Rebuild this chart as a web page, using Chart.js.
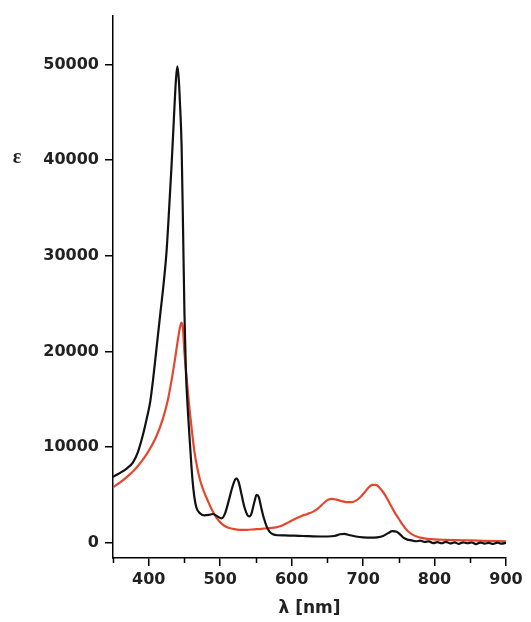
<html lang="en">
<head>
    <meta charset="UTF-8">
    <title>Absorption spectra</title>
    <script src="https://cdn.jsdelivr.net/npm/chart.js"></script>
    <style>
        body { margin: 0; background: #fff; }
        canvas { display: block; }
    </style>
</head>
<body>
    <canvas id="spectrum" width="531" height="622"></canvas>

    <script>
        // black spectrum (wavelength nm / epsilon)
        const blackNm = [350, 360, 370, 378, 385, 392, 397, 402, 406, 411, 416, 421, 425, 429, 432, 435, 438, 440, 442, 444, 446, 448, 450, 452, 455, 458, 461, 464, 467, 472, 478, 484, 490, 496, 502, 507, 512, 517, 521, 523, 526, 530, 534, 538, 541, 544, 548, 551, 554, 557, 561, 565, 569, 574, 580, 590, 600, 610, 620, 630, 640, 650, 660, 668, 674, 680, 690, 700, 710, 720, 728, 735, 741, 747, 752, 757, 762, 768, 774, 780, 786, 792, 798, 804, 810, 816, 822, 828, 834, 840, 846, 852, 858, 864, 870, 876, 882, 888, 894, 900];
        const blackEps = [6900, 7300, 7800, 8400, 9500, 11300, 12900, 14700, 17000, 20400, 23800, 27200, 30500, 35500, 39500, 44000, 48300, 49800, 48500, 45500, 41500, 33000, 24000, 18000, 13500, 10000, 6800, 4700, 3600, 3050, 2850, 2900, 3000, 2750, 2550, 3100, 4400, 5800, 6600, 6700, 6300, 5000, 3700, 2900, 2750, 3100, 4300, 5000, 4800, 3800, 2600, 1700, 1150, 880, 780, 760, 740, 720, 690, 660, 650, 650, 700, 880, 920, 800, 650, 560, 520, 560, 700, 1000, 1200, 1150, 850, 500, 320, 250, 150, 210, 80, 140, -40, 60, -60, 90, -80, 30, -120, 40, -60, 20, -140, 10, -90, -20, -130, 0, -100, -10];

        // red spectrum
        const redNm = [350, 360, 370, 380, 390, 400, 410, 420, 427, 432, 437, 441, 444, 446, 448, 450, 453, 456, 460, 464, 468, 472, 477, 482, 488, 495, 502, 509, 518, 528, 537, 548, 558, 569, 578, 587, 596, 605, 614, 622, 630, 638, 645, 651, 657, 663, 670, 677, 684, 690, 696, 702, 708, 713, 718, 723, 728, 733, 738, 744, 750, 756, 762, 768, 775, 782, 790, 800, 815, 830, 850, 870, 900];
        const redEps = [5800, 6300, 6900, 7600, 8500, 9600, 11000, 13000, 15000, 17000, 19300, 21300, 22600, 23000, 22300, 19800, 17300, 14800, 12000, 9500, 7800, 6500, 5400, 4500, 3500, 2600, 2000, 1650, 1450, 1350, 1350, 1400, 1450, 1530, 1600, 1800, 2150, 2500, 2800, 3000, 3250, 3650, 4150, 4500, 4580, 4500, 4350, 4250, 4250, 4400, 4750, 5250, 5800, 6050, 6050, 5750, 5300, 4700, 4000, 3200, 2500, 1800, 1250, 900, 650, 500, 400, 340, 300, 270, 240, 200, 150];

        const xMajorTicks = [400, 500, 600, 700, 800, 900];
        const xMinorTicks = [350, 450, 550, 650, 750, 850];
        const yTicks = [0, 10000, 20000, 30000, 40000, 50000];

        const inkColor = '#222';
        const labelFont = { family: '"DejaVu Sans"', size: 16, weight: 'bold' };

        function toPoints(xs, ys) {
            return xs.map((x, i) => ({ x: x, y: ys[i] }));
        }

        // short minor ticks under the x axis, plus the epsilon label next to 40000
        const extras = {
            id: 'extras',
            afterDraw(chart) {
                const ctx = chart.ctx;
                const xs = chart.scales.x;
                const ys = chart.scales.y;
                ctx.save();
                ctx.strokeStyle = '#000';
                ctx.lineWidth = 1.5;
                ctx.beginPath();
                xMinorTicks.forEach(v => {
                    const px = Math.round(xs.getPixelForValue(v)) + 0.5;
                    ctx.moveTo(px, ys.bottom);
                    ctx.lineTo(px, ys.bottom + 5);
                });
                ctx.stroke();

                ctx.fillStyle = inkColor;
                ctx.font = 'bold 20px "Liberation Serif"';
                ctx.textAlign = 'center';
                ctx.textBaseline = 'middle';
                ctx.fillText('ε', 17, ys.getPixelForValue(40000) - 2);
                ctx.restore();
            }
        };

        new Chart(document.getElementById('spectrum'), {
            type: 'line',
            data: {
                datasets: [
                    {
                        label: 'black',
                        data: toPoints(blackNm, blackEps),
                        borderColor: '#111',
                        borderWidth: 2.2,
                        pointRadius: 0,
                        cubicInterpolationMode: 'monotone'
                    },
                    {
                        label: 'red',
                        data: toPoints(redNm, redEps),
                        borderColor: '#e4472d',
                        borderWidth: 2.2,
                        pointRadius: 0,
                        cubicInterpolationMode: 'monotone'
                    }
                ]
            },
            options: {
                responsive: false,
                animation: false,
                devicePixelRatio: 1,
                layout: { padding: { top: 14, right: 25, left: 0, bottom: 0 } },
                plugins: {
                    legend: { display: false },
                    tooltip: { enabled: false }
                },
                scales: {
                    x: {
                        type: 'linear',
                        min: 350,
                        max: 900,
                        afterBuildTicks: s => { s.ticks = xMajorTicks.map(v => ({ value: v })); },
                        afterFit: s => { s.height = 64; },
                        border: { display: true, color: '#000', width: 1.5 },
                        grid: { drawOnChartArea: false, drawTicks: true, tickLength: 8, color: '#000', lineWidth: 1.5 },
                        ticks: {
                            padding: 4,
                            maxRotation: 0,
                            autoSkip: false,
                            color: inkColor,
                            font: labelFont
                        },
                        title: {
                            display: true,
                            text: 'λ [nm]',
                            color: inkColor,
                            font: { family: '"DejaVu Sans"', size: 17, weight: 'bold' },
                            padding: { top: 0, bottom: 3 }
                        }
                    },
                    y: {
                        type: 'linear',
                        min: -1600,
                        max: 55100,
                        afterBuildTicks: s => { s.ticks = yTicks.map(v => ({ value: v })); },
                        afterFit: s => { s.width = 113; },
                        border: { display: true, color: '#000', width: 1.5 },
                        grid: { drawOnChartArea: false, drawTicks: true, tickLength: 8, color: '#000', lineWidth: 1.5 },
                        ticks: {
                            padding: 6,
                            color: inkColor,
                            font: labelFont,
                            callback: v => String(v)
                        }
                    }
                }
            },
            plugins: [extras]
        });
    </script>
</body>
</html>
